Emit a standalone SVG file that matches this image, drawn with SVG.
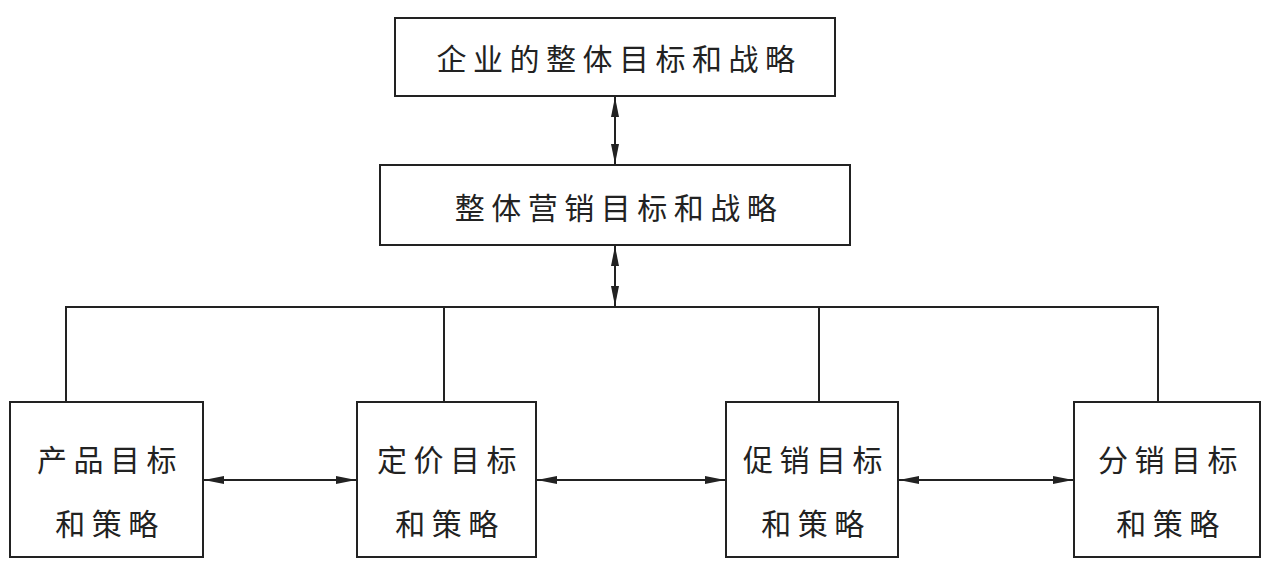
<svg xmlns="http://www.w3.org/2000/svg" width="1285" height="583" viewBox="0 0 1285 583">
<style>
rect{fill:#fff;stroke:#222;stroke-width:2}
text{font-family:"Noto Sans CJK SC",sans-serif;font-size:30px;fill:#222;text-anchor:middle;dominant-baseline:central;letter-spacing:6.5px}
.c{stroke:#222;stroke-width:2;fill:none}
</style>
<defs>
<marker id="h" viewBox="0 0 20 10" refX="20" refY="5" markerWidth="20" markerHeight="10" markerUnits="userSpaceOnUse" orient="auto-start-reverse"><path d="M0,1 L20,5 L0,9 Z" fill="#222"/></marker>
</defs>
<g id="connectors">
<line class="c" x1="615" y1="97" x2="615" y2="164" marker-start="url(#h)" marker-end="url(#h)"/>
<line class="c" x1="615" y1="246" x2="615" y2="306" marker-start="url(#h)" marker-end="url(#h)"/>
<polyline class="c" points="66,402 66,307 1158,307 1158,402"/>
<line class="c" x1="444" y1="307" x2="444" y2="402"/>
<line class="c" x1="819" y1="307" x2="819" y2="402"/>
<line class="c" x1="204" y1="480" x2="356" y2="480" marker-start="url(#h)" marker-end="url(#h)"/>
<line class="c" x1="537" y1="480" x2="725" y2="480" marker-start="url(#h)" marker-end="url(#h)"/>
<line class="c" x1="899" y1="480" x2="1073" y2="480" marker-start="url(#h)" marker-end="url(#h)"/>
</g>
<g id="n1"><rect x="395" y="18" width="440" height="78"/><text x="619" y="57">企业的整体目标和战略</text></g>
<g id="n2"><rect x="380" y="165" width="470" height="80"/><text x="619" y="206">整体营销目标和战略</text></g>
<g id="n3"><rect x="10" y="402" width="193" height="155"/><text x="110" y="458">产品目标</text><text x="110" y="522">和策略</text></g>
<g id="n4"><rect x="357" y="402" width="179" height="155"/><text x="450" y="458">定价目标</text><text x="450" y="522">和策略</text></g>
<g id="n5"><rect x="726" y="402" width="172" height="155"/><text x="816" y="458">促销目标</text><text x="816" y="522">和策略</text></g>
<g id="n6"><rect x="1074" y="402" width="186" height="155"/><text x="1171" y="458">分销目标</text><text x="1171" y="522">和策略</text></g>
</svg>
